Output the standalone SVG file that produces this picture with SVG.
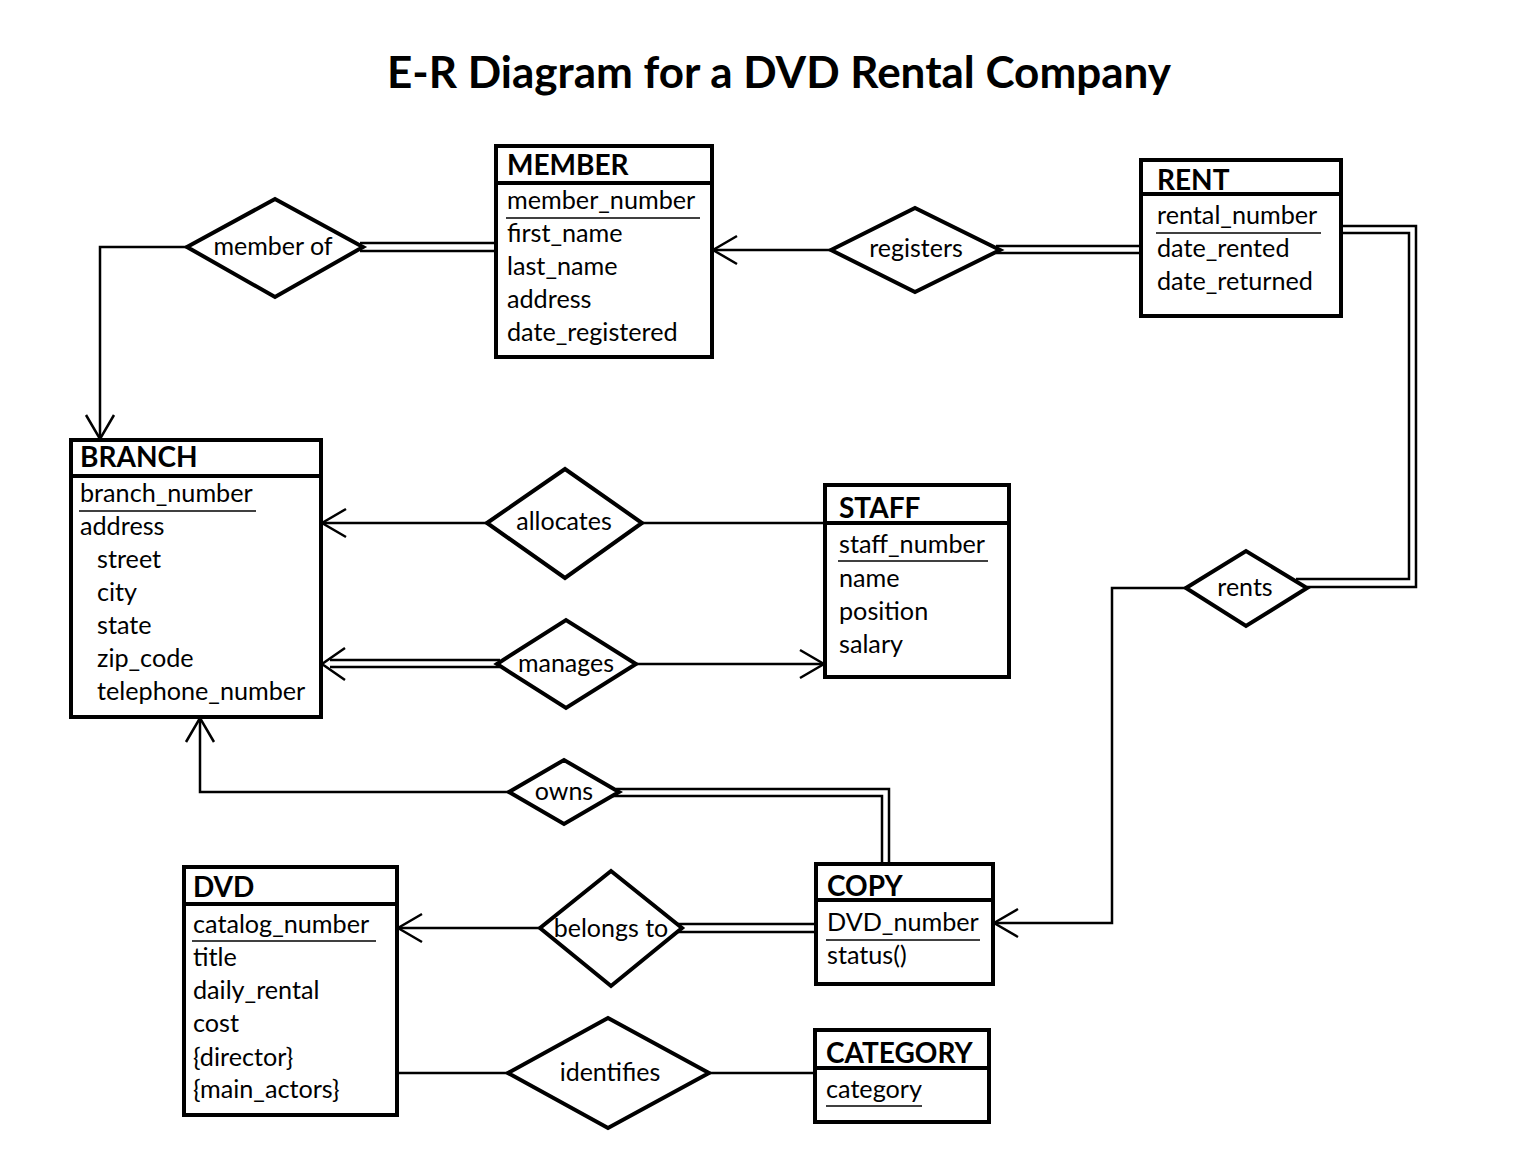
<svg xmlns="http://www.w3.org/2000/svg" width="1536" height="1163" viewBox="0 0 1536 1163">
<style>
.box{fill:#fff;stroke:#000;stroke-width:4}
.div{stroke:#000;stroke-width:4}
.dia{fill:#fff;stroke:#000;stroke-width:4;stroke-linejoin:miter}
.ln{fill:none;stroke:#000;stroke-width:2.5}
.ul{stroke:#000;stroke-width:1.5}
.hd{font-family:Lato,"Liberation Sans",sans-serif;font-weight:bold;font-size:28px;fill:#000}
.at{font-family:Lato,"Liberation Sans",sans-serif;font-size:25.2px;fill:#000}
.lb{font-family:Lato,"Liberation Sans",sans-serif;font-size:25px;fill:#000;text-anchor:middle}
.title{font-family:Lato,"Liberation Sans",sans-serif;font-weight:bold;font-size:44px;fill:#000;text-anchor:middle}
</style>
<defs>
<marker id="arr" markerUnits="userSpaceOnUse" viewBox="-26 -16 28 32" refX="0" refY="0" markerWidth="28" markerHeight="32" orient="auto">
<path d="M-24,-14 L0,0 L-24,14" fill="none" stroke="#000" stroke-width="2.5"/>
</marker>
</defs>
<rect width="1536" height="1163" fill="#fff"/>
<text class="title" x="779" y="88">E-R Diagram for a DVD Rental Company</text>

<g id="connectors">
<polyline class="ln" points="187,247 100,247 100,439" marker-end="url(#arr)"/>
<line class="ln" x1="360" y1="243" x2="496" y2="243"/>
<line class="ln" x1="360" y1="251" x2="496" y2="251"/>
<line class="ln" x1="831" y1="250" x2="713" y2="250" marker-end="url(#arr)"/>
<line class="ln" x1="996" y1="246" x2="1141" y2="246"/>
<line class="ln" x1="996" y1="253" x2="1141" y2="253"/>
<polyline class="ln" points="1342,226 1416,226 1416,587 1307,587"/>
<polyline class="ln" points="1342,233 1409,233 1409,579 1296,579"/>
<polyline class="ln" points="1186,588 1112,588 1112,923 994,923" marker-end="url(#arr)"/>
<line class="ln" x1="487" y1="523" x2="322" y2="523" marker-end="url(#arr)"/>
<line class="ln" x1="642" y1="523" x2="825" y2="523"/>
<line class="ln" x1="500" y1="660" x2="330" y2="660"/>
<line class="ln" x1="500" y1="667" x2="330" y2="667"/>
<path class="ln" d="M345,648 L322,664 L345,680"/>
<line class="ln" x1="636" y1="664" x2="824" y2="664" marker-end="url(#arr)"/>
<polyline class="ln" points="509,792 200,792 200,718" marker-end="url(#arr)"/>
<polyline class="ln" points="616,789 889,789 889,864"/>
<polyline class="ln" points="612,796 882,796 882,864"/>
<line class="ln" x1="540" y1="928" x2="398" y2="928" marker-end="url(#arr)"/>
<line class="ln" x1="678" y1="924" x2="816" y2="924"/>
<line class="ln" x1="678" y1="932" x2="816" y2="932"/>
<line class="ln" x1="397" y1="1073" x2="508" y2="1073"/>
<line class="ln" x1="709" y1="1073" x2="815" y2="1073"/>
</g>

<g id="rel-member-of">
<polygon class="dia" points="187,247 275,199 363,247 275,297"/>
<text class="lb" x="273" y="255">member of</text>
</g>
<g id="rel-registers">
<polygon class="dia" points="831,250 915,208 1000,250 915,292"/>
<text class="lb" x="916" y="257">registers</text>
</g>
<g id="rel-allocates">
<polygon class="dia" points="487,523 565,469 642,523 565,578"/>
<text class="lb" x="564" y="530">allocates</text>
</g>
<g id="rel-manages">
<polygon class="dia" points="497,664 566,620 636,664 566,708"/>
<text class="lb" x="566" y="672">manages</text>
</g>
<g id="rel-rents">
<polygon class="dia" points="1186,588 1246,551 1307,588 1246,626"/>
<text class="lb" x="1245" y="596">rents</text>
</g>
<g id="rel-owns">
<polygon class="dia" points="509,792 564,760 619,792 564,824"/>
<text class="lb" x="564" y="800">owns</text>
</g>
<g id="rel-belongs-to">
<polygon class="dia" points="540,928 611,871 682,928 611,986"/>
<text class="lb" x="611" y="937">belongs to</text>
</g>
<g id="rel-identifies">
<polygon class="dia" points="508,1073 608,1018 709,1073 608,1128"/>
<text class="lb" x="610" y="1081">identifies</text>
</g>

<g id="MEMBER">
<rect class="box" x="496" y="146" width="216" height="211"/>
<line class="div" x1="496" y1="183" x2="712" y2="183"/>
<text class="hd" x="507" y="175">MEMBER</text>
<text class="at" x="507" y="209">member_number</text>
<line class="ul" x1="506" y1="218" x2="700" y2="218"/>
<text class="at" x="507" y="242">first_name</text>
<text class="at" x="507" y="275">last_name</text>
<text class="at" x="507" y="308">address</text>
<text class="at" x="507" y="341">date_registered</text>
</g>

<g id="RENT">
<rect class="box" x="1141" y="160" width="200" height="156"/>
<line class="div" x1="1141" y1="194" x2="1341" y2="194"/>
<text class="hd" x="1157" y="190">RENT</text>
<text class="at" x="1157" y="224">rental_number</text>
<line class="ul" x1="1156" y1="233" x2="1321" y2="233"/>
<text class="at" x="1157" y="257">date_rented</text>
<text class="at" x="1157" y="290">date_returned</text>
</g>

<g id="BRANCH">
<rect class="box" x="71" y="440" width="250" height="277"/>
<line class="div" x1="71" y1="476" x2="321" y2="476"/>
<text class="hd" x="80" y="467">BRANCH</text>
<text class="at" x="80" y="502">branch_number</text>
<line class="ul" x1="79" y1="511" x2="256" y2="511"/>
<text class="at" x="80" y="535">address</text>
<text class="at" x="97" y="568">street</text>
<text class="at" x="97" y="601">city</text>
<text class="at" x="97" y="634">state</text>
<text class="at" x="97" y="667">zip_code</text>
<text class="at" x="97" y="700">telephone_number</text>
</g>

<g id="STAFF">
<rect class="box" x="825" y="485" width="184" height="192"/>
<line class="div" x1="825" y1="523" x2="1009" y2="523"/>
<text class="hd" x="839" y="518">STAFF</text>
<text class="at" x="839" y="553">staff_number</text>
<line class="ul" x1="838" y1="561" x2="988" y2="561"/>
<text class="at" x="839" y="587">name</text>
<text class="at" x="839" y="620">position</text>
<text class="at" x="839" y="653">salary</text>
</g>

<g id="COPY">
<rect class="box" x="816" y="864" width="177" height="120"/>
<line class="div" x1="816" y1="900" x2="993" y2="900"/>
<text class="hd" x="827" y="896">COPY</text>
<text class="at" x="827" y="931">DVD_number</text>
<line class="ul" x1="826" y1="940" x2="980" y2="940"/>
<text class="at" x="827" y="964">status()</text>
</g>

<g id="DVD">
<rect class="box" x="184" y="867" width="213" height="248"/>
<line class="div" x1="184" y1="904" x2="397" y2="904"/>
<text class="hd" x="193" y="897">DVD</text>
<text class="at" x="193" y="933">catalog_number</text>
<line class="ul" x1="192" y1="941" x2="376" y2="941"/>
<text class="at" x="193" y="966">title</text>
<text class="at" x="193" y="999">daily_rental</text>
<text class="at" x="193" y="1032">cost</text>
<text class="at" x="193" y="1066">{director}</text>
<text class="at" x="193" y="1098">{main_actors}</text>
</g>

<g id="CATEGORY">
<rect class="box" x="815" y="1030" width="174" height="92"/>
<line class="div" x1="815" y1="1068" x2="989" y2="1068"/>
<text class="hd" x="826" y="1063">CATEGORY</text>
<text class="at" x="826" y="1098">category</text>
<line class="ul" x1="826" y1="1106" x2="922" y2="1106"/>
</g>
</svg>
